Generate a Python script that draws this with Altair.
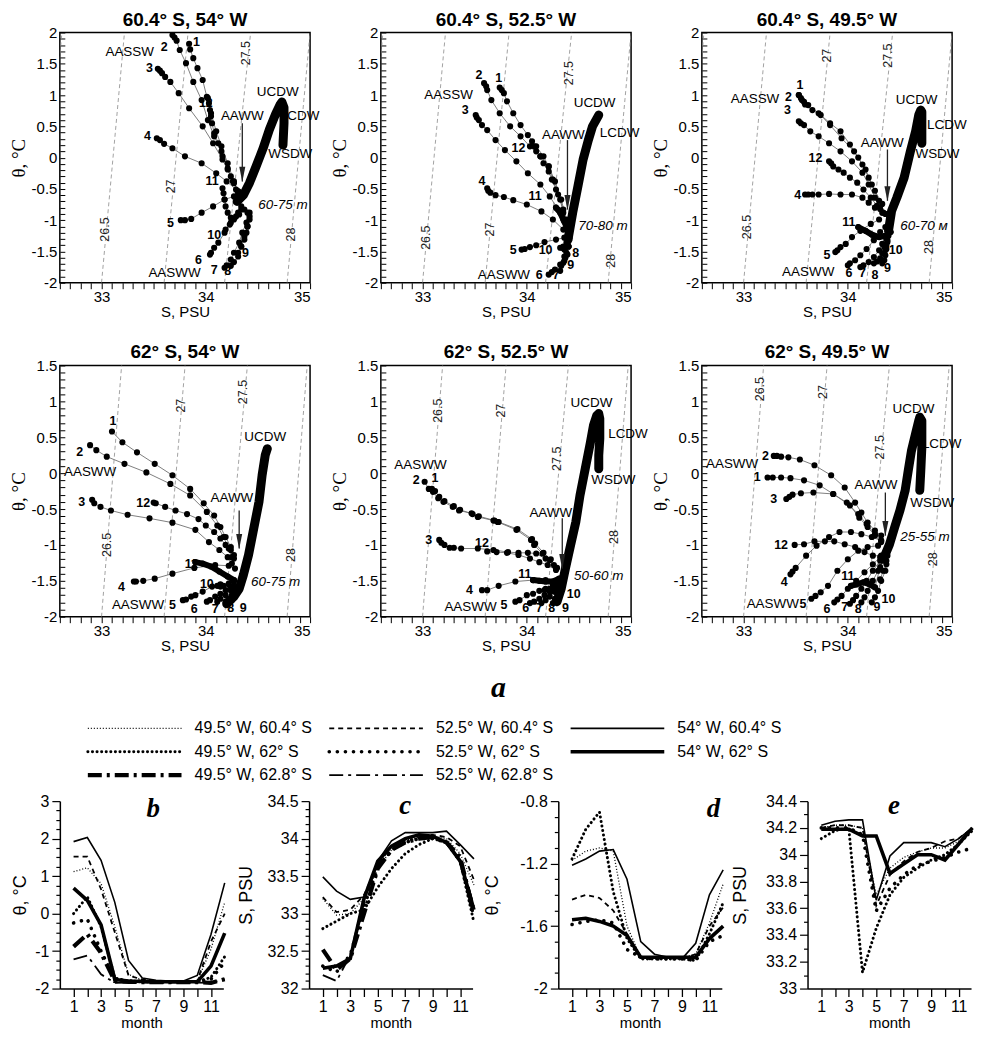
import altair as alt
import pandas as pd

FONT = "Liberation Sans"
SERIF = "Liberation Serif"

S_LO, S_HI = 32.6, 35.0

# ---------------- isopycnals (sigma-theta) ----------------
ISO_SIGMA = [26.0, 26.5, 27.0, 27.5, 28.0]
ISO_S_COLD = [32.40, 33.00, 33.60, 34.18, 34.78]   # S where the isopycnal meets theta = -2
ISO_S_WARM = [32.62, 33.22, 33.83, 34.43, 35.00]   # S where the isopycnal meets theta = 2

# ---------------- panel 1: 60.4 S, 54 W ----------------
P1_MONTHS = {
    1: [(33.84, 1.82), (33.85, 1.73), (33.88, 1.59), (33.92, 1.43), (33.97, 1.24), (34.01, 0.97), (34.05, 0.71), (34.10, 0.42), (34.15, 0.18), (34.21, -0.09), (34.27, -0.38), (34.32, -0.59)],
    2: [(33.68, 1.96), (33.70, 1.92), (33.72, 1.87), (33.75, 1.72), (33.81, 1.51), (33.88, 1.21), (33.96, 0.92), (34.02, 0.60), (34.08, 0.34), (34.15, 0.10), (34.21, -0.17), (34.27, -0.41), (34.31, -0.57)],
    3: [(33.54, 1.42), (33.56, 1.39), (33.58, 1.35), (33.61, 1.29), (33.66, 1.21), (33.74, 1.03), (33.84, 0.79), (33.97, 0.50), (34.07, 0.23), (34.16, -0.03), (34.24, -0.30), (34.31, -0.54)],
    4: [(33.53, 0.31), (33.56, 0.28), (33.60, 0.22), (33.68, 0.15), (33.80, 0.02), (33.96, -0.09), (34.10, -0.25), (34.20, -0.38), (34.29, -0.51)],
    5: [(33.76, -1.00), (33.80, -1.00), (33.86, -0.98), (33.96, -0.88), (34.07, -0.78), (34.18, -0.67), (34.27, -0.62)],
    6: [(34.04, -1.55), (34.05, -1.52), (34.08, -1.44), (34.12, -1.36), (34.18, -1.20), (34.24, -1.04), (34.31, -0.88), (34.34, -0.78)],
    7: [(34.18, -1.76), (34.20, -1.72), (34.24, -1.63), (34.27, -1.52), (34.32, -1.36), (34.35, -1.20), (34.39, -1.04), (34.40, -0.88)],
    8: [(34.24, -1.73), (34.27, -1.67), (34.31, -1.58), (34.34, -1.42), (34.37, -1.26), (34.40, -1.10), (34.42, -0.94)],
    9: [(34.31, -1.52), (34.34, -1.42), (34.37, -1.31), (34.39, -1.20), (34.40, -1.10), (34.42, -0.99), (34.42, -0.88)],
    10: [(34.19, -1.15), (34.23, -1.07), (34.27, -0.99), (34.32, -0.91), (34.37, -0.83)],
    11: [(34.16, -0.49), (34.17, -0.57), (34.18, -0.67), (34.19, -0.78), (34.21, -0.88), (34.24, -0.96), (34.29, -0.94), (34.34, -0.83)],
    12: [(34.02, 0.95), (34.03, 0.87), (34.04, 0.76), (34.05, 0.66), (34.06, 0.55), (34.08, 0.39), (34.12, 0.23), (34.16, 0.02), (34.21, -0.19), (34.26, -0.38), (34.31, -0.54)],
}
P1_THICK = []
P1_DEEP = [(34.30, -0.70), (34.36, -0.60), (34.42, -0.40), (34.48, -0.15), (34.55, 0.15), (34.61, 0.45), (34.67, 0.70), (34.71, 0.84), (34.73, 0.89), (34.75, 0.80), (34.75, 0.55), (34.74, 0.20)]
P1_MLAB = [("1", 33.91, 1.85), ("2", 33.60, 1.77), ("3", 33.46, 1.43), ("4", 33.44, 0.34), ("5", 33.66, -1.04), ("6", 33.93, -1.63), ("7", 34.08, -1.79), ("8", 34.21, -1.81), ("9", 34.38, -1.52), ("10", 34.08, -1.23), ("11", 34.06, -0.38), ("12", 34.00, 0.87)]
P1_WM = [("AASSW", 33.27, 1.69), ("UCDW", 34.69, 1.05), ("LCDW", 34.90, 0.66), ("WSDW", 34.81, 0.05), ("AAWW", 34.35, 0.66), ("AASWW", 33.70, -1.84)]
P1_DEPTH = ("60-75 m", 34.74, -0.75)
P1_ARROW = (34.35, 0.55, -0.38)
P1_ISOLAB = [("26.5", 33.03, -1.15), ("27", 33.67, -0.46), ("27.5", 34.39, 1.67), ("28", 34.82, -1.23)]

# ---------------- panel 2: 60.4 S, 52.5 W ----------------
P2_MONTHS = {
    1: [(33.74, 1.12), (33.76, 1.08), (33.78, 1.03), (33.81, 0.90), (33.87, 0.71), (33.94, 0.52), (34.01, 0.36), (34.09, 0.18), (34.16, 0.02), (34.21, -0.14), (34.25, -0.35), (34.30, -0.59), (34.35, -0.83), (34.38, -1.04)],
    2: [(33.59, 1.19), (33.61, 1.14), (33.62, 1.08), (33.66, 0.92), (33.74, 0.71), (33.84, 0.50), (33.94, 0.34), (34.03, 0.18), (34.13, 0.02), (34.21, -0.14), (34.27, -0.38), (34.33, -0.67), (34.38, -0.99)],
    3: [(33.51, 0.68), (33.52, 0.64), (33.54, 0.60), (33.57, 0.52), (33.62, 0.44), (33.70, 0.28), (33.79, 0.12), (33.90, -0.06), (34.01, -0.25), (34.13, -0.43), (34.22, -0.62), (34.30, -0.83), (34.36, -1.02)],
    4: [(33.62, -0.49), (33.63, -0.53), (33.65, -0.56), (33.70, -0.60), (33.78, -0.63), (33.87, -0.68), (34.00, -0.75), (34.14, -0.86), (34.25, -0.99), (34.35, -1.15)],
    5: [(33.95, -1.47), (33.98, -1.46), (34.03, -1.43), (34.09, -1.40), (34.17, -1.35), (34.28, -1.31), (34.36, -1.28)],
    6: [(34.21, -1.87), (34.24, -1.83), (34.27, -1.79), (34.32, -1.71), (34.36, -1.58), (34.40, -1.42)],
    7: [(34.32, -1.81), (34.33, -1.73), (34.36, -1.65), (34.39, -1.55), (34.40, -1.42), (34.41, -1.28)],
    8: [(34.36, -1.47), (34.38, -1.42), (34.40, -1.34), (34.41, -1.23)],
    9: [(34.35, -1.68), (34.37, -1.60), (34.38, -1.52), (34.40, -1.42), (34.41, -1.31)],
    10: [(34.32, -1.44), (34.34, -1.44), (34.35, -1.42), (34.38, -1.36), (34.40, -1.31)],
    11: [(34.28, -0.80), (34.32, -0.88), (34.35, -0.99), (34.38, -1.10), (34.41, -1.18)],
    12: [(34.05, 0.26), (34.07, 0.18), (34.09, 0.10), (34.13, 0.02), (34.16, -0.09), (34.21, -0.22), (34.24, -0.35), (34.28, -0.51), (34.32, -0.67), (34.35, -0.88), (34.38, -1.04)],
}
P2_THICK = [[(34.28, -0.80), (34.32, -0.88), (34.35, -0.99), (34.38, -1.10), (34.41, -1.18)]]
P2_DEEP = [(34.40, -1.26), (34.44, -0.88), (34.49, -0.46), (34.54, -0.03), (34.59, 0.28), (34.63, 0.50), (34.67, 0.62), (34.69, 0.68)]
P2_MLAB = [("1", 33.73, 1.27), ("2", 33.54, 1.32), ("3", 33.41, 0.76), ("4", 33.57, -0.38), ("5", 33.87, -1.47), ("6", 34.12, -1.87), ("7", 34.28, -1.87), ("8", 34.47, -1.52), ("9", 34.42, -1.71), ("10", 34.18, -1.47), ("11", 34.08, -0.62), ("12", 33.92, 0.15)]
P2_WM = [("AASSW", 33.25, 1.00), ("UCDW", 34.65, 0.87), ("LCDW", 34.89, 0.39), ("AAWW", 34.35, 0.36), ("AASWW", 33.78, -1.87)]
P2_DEPTH = ("70-80 m", 34.73, -1.10)
P2_ARROW = (34.39, 0.28, -0.83)
P2_ISOLAB = [("26.5", 33.03, -1.28), ("27", 33.65, -1.15), ("27.5", 34.40, 1.35), ("28", 34.81, -1.65)]

# ---------------- panel 3: 60.4 S, 49.5 W ----------------
P3_MONTHS = {
    1: [(33.53, 1.00), (33.55, 0.95), (33.58, 0.89), (33.62, 0.84), (33.72, 0.71), (33.83, 0.55), (33.93, 0.42), (34.02, 0.21), (34.10, 0.00), (34.17, -0.19), (34.23, -0.43), (34.30, -0.69), (34.36, -0.90)],
    2: [(33.53, 1.00), (33.56, 0.92), (33.59, 0.85), (33.66, 0.76), (33.74, 0.68), (33.83, 0.52), (33.94, 0.31), (34.06, 0.10), (34.14, -0.11), (34.20, -0.32), (34.26, -0.53), (34.33, -0.74)],
    3: [(33.53, 0.58), (33.55, 0.55), (33.58, 0.52), (33.64, 0.42), (33.72, 0.34), (33.82, 0.23), (33.93, 0.10), (34.04, -0.06), (34.14, -0.24), (34.20, -0.43), (34.26, -0.64), (34.31, -0.82)],
    4: [(33.59, -0.59), (33.62, -0.59), (33.66, -0.59), (33.72, -0.59), (33.82, -0.58), (33.93, -0.59), (34.04, -0.59), (34.14, -0.64), (34.20, -0.72), (34.26, -0.80), (34.33, -0.88)],
    5: [(33.88, -1.51), (33.90, -1.48), (33.93, -1.43), (33.98, -1.38), (34.04, -1.27), (34.12, -1.17), (34.22, -1.06), (34.30, -0.99)],
    6: [(34.00, -1.72), (34.02, -1.69), (34.07, -1.64), (34.12, -1.56), (34.18, -1.46), (34.25, -1.32), (34.31, -1.19), (34.36, -1.11)],
    7: [(34.12, -1.75), (34.15, -1.72), (34.20, -1.67), (34.25, -1.59), (34.30, -1.48), (34.33, -1.38), (34.36, -1.25)],
    8: [(34.25, -1.69), (34.28, -1.66), (34.31, -1.61), (34.33, -1.53), (34.35, -1.43), (34.37, -1.30)],
    9: [(34.33, -1.69), (34.35, -1.64), (34.36, -1.56), (34.37, -1.46), (34.38, -1.35)],
    10: [(34.36, -1.48), (34.37, -1.40), (34.38, -1.32), (34.39, -1.25)],
    11: [(34.10, -1.11), (34.17, -1.17), (34.23, -1.23), (34.30, -1.27), (34.36, -1.25), (34.41, -1.19)],
    12: [(33.82, -0.06), (33.84, -0.09), (33.86, -0.14), (33.91, -0.19), (33.96, -0.24), (34.02, -0.32), (34.09, -0.40), (34.15, -0.51), (34.22, -0.64), (34.28, -0.77), (34.34, -0.88)],
}
P3_THICK = [[(34.10, -1.11), (34.17, -1.17), (34.23, -1.23), (34.30, -1.27), (34.36, -1.25), (34.41, -1.19)]]
P3_DEEP = [(34.39, -1.17), (34.42, -0.85), (34.47, -0.64), (34.54, -0.32), (34.60, 0.10), (34.65, 0.42), (34.68, 0.68), (34.70, 0.76), (34.71, 0.73), (34.71, 0.52), (34.71, 0.23)]
P3_MLAB = [("1", 33.54, 1.16), ("2", 33.43, 0.97), ("3", 33.42, 0.76), ("4", 33.52, -0.59), ("5", 33.80, -1.56), ("6", 34.01, -1.85), ("7", 34.14, -1.85), ("8", 34.26, -1.88), ("9", 34.38, -1.77), ("10", 34.46, -1.48), ("11", 34.01, -1.03), ("12", 33.69, -0.01)]
P3_WM = [("AASSW", 33.11, 0.94), ("UCDW", 34.66, 0.92), ("LCDW", 34.95, 0.52), ("WSDW", 34.86, 0.05), ("AAWW", 34.33, 0.23), ("AASWW", 33.62, -1.83)]
P3_DEPTH = ("60-70 м", 34.73, -1.09)
P3_ARROW = (34.38, 0.13, -0.69)
P3_ISOLAB = [("26.5", 33.03, -1.11), ("27", 33.80, 1.63), ("27.5", 34.39, 1.63), ("28", 34.78, -1.43)]

# ---------------- panel 4: 62 S, 54 W ----------------
P4_MONTHS = {
    1: [(33.10, 0.58), (33.20, 0.43), (33.34, 0.29), (33.51, 0.13), (33.68, -0.03), (33.85, -0.22), (33.98, -0.42), (34.08, -0.59), (34.14, -0.75), (34.19, -0.89), (34.24, -1.03), (34.27, -1.14)],
    2: [(32.89, 0.39), (32.95, 0.32), (33.05, 0.23), (33.22, 0.13), (33.43, 0.01), (33.66, -0.15), (33.85, -0.31), (34.01, -0.54), (34.11, -0.73), (34.17, -0.89), (34.22, -1.05), (34.25, -1.17)],
    3: [(32.91, -0.37), (32.93, -0.42), (32.99, -0.47), (33.09, -0.52), (33.25, -0.58), (33.46, -0.63), (33.68, -0.69), (33.90, -0.79), (34.03, -0.96), (34.13, -1.07), (34.21, -1.17), (34.25, -1.26)],
    4: [(33.31, -1.51), (33.33, -1.51), (33.40, -1.50), (33.51, -1.47), (33.68, -1.40), (33.89, -1.32), (34.09, -1.28), (34.22, -1.29), (34.28, -1.33)],
    5: [(33.78, -1.77), (33.81, -1.76), (33.86, -1.72), (33.90, -1.70), (33.97, -1.65), (34.06, -1.58), (34.14, -1.55), (34.22, -1.54)],
    6: [(34.01, -1.79), (34.04, -1.77), (34.09, -1.72), (34.14, -1.68), (34.19, -1.63), (34.24, -1.58)],
    7: [(34.11, -1.79), (34.14, -1.75), (34.19, -1.70), (34.24, -1.63), (34.27, -1.58)],
    8: [(34.19, -1.79), (34.22, -1.75), (34.25, -1.70), (34.28, -1.63)],
    9: [(34.22, -1.82), (34.25, -1.77), (34.28, -1.70)],
    10: [(34.11, -1.57), (34.14, -1.58), (34.17, -1.57), (34.22, -1.55), (34.27, -1.51)],
    11: [(33.90, -1.24), (33.97, -1.26), (34.05, -1.30), (34.13, -1.37), (34.21, -1.44), (34.27, -1.49)],
    12: [(33.50, -0.41), (33.52, -0.42), (33.61, -0.47), (33.71, -0.52), (33.82, -0.57), (33.93, -0.64), (34.00, -0.73), (34.08, -0.82), (34.14, -0.91), (34.19, -1.00), (34.24, -1.07), (34.27, -1.19)],
}
P4_THICK = [[(33.90, -1.24), (33.97, -1.26), (34.05, -1.30), (34.13, -1.37), (34.21, -1.44), (34.27, -1.49)]]
P4_DEEP = [(34.20, -1.82), (34.27, -1.72), (34.32, -1.61), (34.36, -1.42), (34.41, -1.14), (34.46, -0.77), (34.51, -0.40), (34.54, -0.03), (34.57, 0.25), (34.59, 0.34)]
P4_MLAB = [("1", 33.11, 0.72), ("2", 32.79, 0.29), ("3", 32.81, -0.40), ("4", 33.19, -1.58), ("5", 33.68, -1.84), ("6", 33.89, -1.89), ("7", 34.09, -1.89), ("8", 34.24, -1.88), ("9", 34.36, -1.88), ("10", 34.01, -1.54), ("11", 33.86, -1.26), ("12", 33.40, -0.42)]
P4_WM = [("AASWW", 32.89, 0.02), ("UCDW", 34.57, 0.50), ("AAWW", 34.25, -0.35), ("AASWW", 33.35, -1.84)]
P4_DEPTH = ("60-75 m", 34.67, -1.51)
P4_ARROW = (34.32, -0.52, -1.05)
P4_ISOLAB = [("26.5", 33.05, -1.00), ("27", 33.76, 0.94), ("27.5", 34.36, 1.13), ("28", 34.82, -1.14)]

# ---------------- panel 5: 62 S, 52.5 W ----------------
P5_MONTHS = {
    1: [(33.09, -0.22), (33.12, -0.25), (33.16, -0.33), (33.21, -0.39), (33.30, -0.46), (33.36, -0.51), (33.48, -0.57), (33.54, -0.60), (33.69, -0.66), (33.73, -0.68), (33.91, -0.78), (34.05, -0.92), (34.08, -0.98), (34.16, -1.11), (34.23, -1.20), (34.29, -1.32)],
    2: [(33.02, -0.12), (33.06, -0.22), (33.10, -0.26), (33.15, -0.35), (33.20, -0.40), (33.29, -0.47), (33.35, -0.52), (33.47, -0.56), (33.53, -0.61), (33.68, -0.66), (33.72, -0.68), (33.90, -0.79), (34.04, -0.93), (34.07, -1.00), (34.15, -1.12), (34.22, -1.21), (34.28, -1.33)],
    3: [(33.16, -0.93), (33.18, -0.97), (33.21, -1.00), (33.26, -1.04), (33.30, -1.04), (33.37, -1.05), (33.53, -1.05), (33.68, -1.07), (33.82, -1.10), (33.92, -1.11), (34.01, -1.11), (34.09, -1.12), (34.18, -1.19), (34.26, -1.28)],
    4: [(33.57, -1.63), (33.62, -1.63), (33.73, -1.57), (33.89, -1.51), (34.06, -1.49), (34.18, -1.49), (34.28, -1.51)],
    5: [(33.89, -1.79), (33.93, -1.77), (34.00, -1.70), (34.06, -1.68), (34.12, -1.64), (34.18, -1.61), (34.25, -1.56)],
    6: [(34.03, -1.81), (34.07, -1.79), (34.12, -1.75), (34.17, -1.70), (34.22, -1.65), (34.28, -1.58)],
    7: [(34.14, -1.81), (34.18, -1.77), (34.22, -1.72), (34.26, -1.65), (34.29, -1.58)],
    8: [(34.25, -1.81), (34.27, -1.75), (34.29, -1.68), (34.31, -1.61)],
    9: [(34.29, -1.79), (34.31, -1.72), (34.32, -1.65)],
    10: [(34.17, -1.63), (34.22, -1.61), (34.26, -1.58), (34.31, -1.54)],
    11: [(34.06, -1.49), (34.12, -1.50), (34.18, -1.51), (34.25, -1.51), (34.31, -1.47)],
    12: [(33.62, -1.09), (33.71, -1.10), (33.81, -1.11), (33.92, -1.14), (34.03, -1.19), (34.12, -1.24), (34.20, -1.28), (34.28, -1.35)],
}
P5_THICK = [[(34.06, -1.49), (34.12, -1.50), (34.18, -1.51), (34.25, -1.51), (34.31, -1.47)]]
P5_DEEP = [(34.29, -1.79), (34.33, -1.61), (34.37, -1.33), (34.42, -1.00), (34.47, -0.68), (34.51, -0.31), (34.56, 0.06), (34.61, 0.43), (34.64, 0.67), (34.67, 0.80), (34.69, 0.83), (34.70, 0.76), (34.70, 0.48), (34.69, 0.25), (34.69, 0.06)]
P5_MLAB = [("1", 33.12, -0.07), ("2", 32.94, -0.10), ("3", 33.06, -0.93), ("4", 33.45, -1.63), ("5", 33.78, -1.84), ("6", 33.99, -1.88), ("7", 34.12, -1.88), ("8", 34.24, -1.88), ("9", 34.37, -1.88), ("10", 34.45, -1.68), ("11", 33.98, -1.40), ("12", 33.57, -0.98)]
P5_WM = [("AASWW", 32.98, 0.11), ("UCDW", 34.62, 0.98), ("LCDW", 34.97, 0.55), ("WSDW", 34.83, -0.10), ("AAWW", 34.23, -0.56), ("AASWW", 33.46, -1.86)]
P5_DEPTH = ("50-60 m", 34.69, -1.44)
P5_ARROW = (34.34, -0.63, -1.33)
P5_ISOLAB = [("26.5", 33.15, 0.87), ("27", 33.75, 0.87), ("27.5", 34.29, 0.20), ("28", 34.84, -0.89)]

# ---------------- panel 6: 62 S, 49.5 W ----------------
P6_MONTHS = {
    1: [(33.23, -0.06), (33.28, -0.06), (33.36, -0.06), (33.45, -0.07), (33.58, -0.10), (33.73, -0.17), (33.86, -0.29), (33.99, -0.41), (34.10, -0.57), (34.18, -0.71), (34.26, -0.85), (34.32, -0.94)],
    2: [(33.29, 0.24), (33.32, 0.24), (33.36, 0.23), (33.43, 0.22), (33.54, 0.19), (33.68, 0.11), (33.84, -0.03), (33.97, -0.20), (34.07, -0.41), (34.13, -0.55), (34.19, -0.69), (34.26, -0.80), (34.32, -0.87)],
    3: [(33.41, -0.36), (33.44, -0.33), (33.47, -0.30), (33.55, -0.28), (33.67, -0.27), (33.86, -0.29), (34.02, -0.45), (34.11, -0.62), (34.19, -0.75), (34.26, -0.87), (34.32, -0.96)],
    4: [(33.45, -1.41), (33.47, -1.37), (33.50, -1.32), (33.60, -1.15), (33.70, -1.01), (33.82, -0.89), (33.92, -0.82), (34.03, -0.82), (34.13, -0.85), (34.23, -0.89), (34.32, -0.94)],
    5: [(33.65, -1.75), (33.69, -1.71), (33.74, -1.66), (33.81, -1.57), (33.90, -1.36), (34.00, -1.20), (34.10, -1.08), (34.19, -1.03), (34.29, -1.01)],
    6: [(33.87, -1.80), (33.90, -1.76), (33.94, -1.71), (34.00, -1.61), (34.08, -1.50), (34.16, -1.38), (34.24, -1.27), (34.31, -1.17)],
    7: [(34.02, -1.82), (34.05, -1.77), (34.08, -1.71), (34.13, -1.61), (34.18, -1.50), (34.24, -1.36), (34.31, -1.22)],
    8: [(34.13, -1.80), (34.16, -1.73), (34.19, -1.64), (34.24, -1.50), (34.29, -1.36), (34.34, -1.22)],
    9: [(34.23, -1.80), (34.26, -1.73), (34.29, -1.64), (34.32, -1.50), (34.36, -1.36), (34.37, -1.22)],
    10: [(34.31, -1.48), (34.34, -1.36), (34.37, -1.27), (34.38, -1.15)],
    11: [(34.03, -1.57), (34.08, -1.55), (34.15, -1.52), (34.21, -1.55), (34.26, -1.59), (34.31, -1.31), (34.36, -1.13)],
    12: [(33.49, -1.00), (33.58, -0.99), (33.68, -0.95), (33.78, -0.95), (33.87, -0.95), (33.97, -0.99), (34.07, -1.03), (34.16, -1.10), (34.24, -1.15), (34.32, -1.15)],
}
P6_THICK = [[(34.03, -1.57), (34.08, -1.55), (34.15, -1.52), (34.21, -1.55), (34.26, -1.59)]]
P6_DEEP = [(34.36, -1.13), (34.40, -0.99), (34.45, -0.75), (34.50, -0.52), (34.55, -0.24), (34.58, 0.04), (34.61, 0.31), (34.65, 0.55), (34.68, 0.73), (34.69, 0.78), (34.71, 0.73), (34.71, 0.36), (34.70, 0.04), (34.69, -0.24)]
P6_MLAB = [("1", 33.13, -0.06), ("2", 33.21, 0.24), ("3", 33.29, -0.36), ("4", 33.39, -1.52), ("5", 33.57, -1.82), ("6", 33.80, -1.89), ("7", 33.97, -1.87), ("8", 34.10, -1.89), ("9", 34.28, -1.87), ("10", 34.39, -1.75), ("11", 34.00, -1.43), ("12", 33.36, -1.00)]
P6_WM = [("AASWW", 32.89, 0.13), ("UCDW", 34.63, 0.90), ("LCDW", 34.90, 0.41), ("WSDW", 34.81, -0.41), ("AAWW", 34.27, -0.17), ("AASWW", 33.28, -1.82)]
P6_DEPTH = ("25-55 m", 34.74, -0.89)
P6_ARROW = (34.36, -0.27, -0.87)
P6_ISOLAB = [("26.5", 33.16, 1.17), ("27", 33.76, 1.13), ("27.5", 34.31, 0.36), ("28", 34.82, -1.20)]

# ---------------- seasonal panels b-e ----------------
MONTHS = list(range(1, 13))
SERIES = ["49.5° W, 60.4° S", "52.5° W, 60.4° S", "54° W, 60.4° S",
          "49.5° W, 62° S", "52.5° W, 62° S", "54° W, 62° S",
          "49.5° W, 62.8° S", "52.5° W, 62.8° S"]

B_VALUES = {
    "49.5° W, 60.4° S": [1.12, 1.22, 0.80, -0.35, -1.62, -1.78, -1.80, -1.81, -1.81, -1.80, -0.95, 0.30],
    "52.5° W, 60.4° S": [1.52, 1.52, 0.65, -0.50, -1.65, -1.76, -1.80, -1.81, -1.81, -1.80, -0.75, 0.00],
    "54° W, 60.4° S": [1.92, 2.03, 1.42, 0.30, -1.25, -1.72, -1.78, -1.80, -1.80, -1.65, -0.56, 0.82],
    "49.5° W, 62° S": [0.00, 0.45, -0.35, -1.72, -1.80, -1.81, -1.82, -1.82, -1.82, -1.82, -1.70, -1.15],
    "52.5° W, 62° S": [-0.25, -0.15, -1.00, -1.76, -1.80, -1.81, -1.82, -1.82, -1.82, -1.82, -1.75, -1.30],
    "54° W, 62° S": [0.68, 0.35, -0.30, -1.76, -1.80, -1.81, -1.82, -1.82, -1.82, -1.82, -1.40, -0.52],
    "49.5° W, 62.8° S": [-0.88, -0.55, -1.05, -1.80, -1.82, -1.83, -1.83, -1.83, -1.83, -1.83, -1.85, -1.75],
    "52.5° W, 62.8° S": [-1.22, -1.12, -1.62, -1.85, -1.84, -1.84, -1.84, -1.84, -1.84, -1.84, -1.85, -1.75],
}
C_VALUES = {
    "49.5° W, 60.4° S": [33.20, 32.98, 33.00, 33.20, 33.60, 33.85, 33.98, 34.02, 34.03, 34.00, 33.80, 33.38],
    "52.5° W, 60.4° S": [33.22, 33.02, 33.05, 33.25, 33.65, 33.90, 34.00, 34.05, 34.05, 34.02, 33.90, 33.45],
    "54° W, 60.4° S": [33.49, 33.30, 33.19, 33.22, 33.70, 33.97, 34.08, 34.08, 34.08, 34.10, 33.92, 33.73],
    "49.5° W, 62° S": [32.80, 32.90, 33.00, 33.05, 33.35, 33.60, 33.80, 33.92, 34.00, 33.95, 33.70, 32.88],
    "52.5° W, 62° S": [32.30, 32.22, 32.45, 33.10, 33.60, 33.85, 33.95, 34.00, 34.00, 33.95, 33.70, 32.95],
    "54° W, 62° S": [32.27, 32.30, 32.40, 33.20, 33.70, 33.90, 34.00, 34.05, 34.03, 33.95, 33.70, 33.05],
    "49.5° W, 62.8° S": [32.52, 32.25, 32.40, 33.00, 33.60, 33.85, 33.95, 34.00, 34.02, 33.95, 33.75, 33.00],
    "52.5° W, 62.8° S": [32.18, 32.10, 32.45, 33.20, 33.65, 33.85, 33.95, 34.02, 34.02, 33.95, 33.75, 33.10],
}
D_VALUES = {
    "49.5° W, 60.4° S": [-1.18, -1.12, -1.10, -1.12, -1.60, -1.80, -1.80, -1.80, -1.80, -1.78, -1.58, -1.33],
    "52.5° W, 60.4° S": [-1.43, -1.40, -1.42, -1.50, -1.65, -1.80, -1.80, -1.80, -1.81, -1.78, -1.60, -1.48],
    "54° W, 60.4° S": [-1.21, -1.17, -1.12, -1.11, -1.30, -1.70, -1.78, -1.80, -1.81, -1.71, -1.40, -1.24],
    "49.5° W, 62° S": [-1.17, -0.98, -0.87, -1.38, -1.68, -1.81, -1.81, -1.81, -1.81, -1.82, -1.65, -1.45],
    "52.5° W, 62° S": [-1.59, -1.57, -1.56, -1.58, -1.75, -1.80, -1.81, -1.81, -1.81, -1.82, -1.70, -1.66],
    "54° W, 62° S": [-1.56, -1.55, -1.57, -1.60, -1.66, -1.80, -1.80, -1.80, -1.80, -1.80, -1.68, -1.60],
}
E_VALUES = {
    "49.5° W, 60.4° S": [34.20, 34.22, 34.22, 34.20, 33.70, 33.90, 33.98, 34.02, 34.05, 34.05, 34.10, 34.18],
    "52.5° W, 60.4° S": [34.20, 34.22, 34.22, 34.20, 33.62, 33.85, 33.95, 34.02, 34.05, 34.10, 34.12, 34.20],
    "54° W, 60.4° S": [34.22, 34.25, 34.26, 34.26, 33.66, 33.99, 34.09, 34.09, 34.09, 34.06, 34.12, 34.20],
    "49.5° W, 62° S": [34.12, 34.18, 34.20, 33.12, 33.45, 33.70, 33.83, 33.90, 33.96, 34.00, 34.08, 34.18],
    "52.5° W, 62° S": [34.20, 34.20, 34.20, 34.15, 33.58, 33.75, 33.85, 33.92, 33.95, 33.98, 34.02, 34.05],
    "54° W, 62° S": [34.19, 34.19, 34.19, 34.14, 34.14, 33.86, 33.93, 34.00, 34.00, 33.96, 34.08, 34.20],
}

# line styles of the eight series (styles kept apart from the data)
STROKE_W = [1.3, 1.8, 1.6, 3.0, 3.6, 3.6, 4.2, 1.8]
STROKE_DASH = [[1, 2], [5, 4], None, [0.1, 4.5], [0.1, 8], None, [14, 5, 3, 5], [14, 5, 3, 5]]
STROKE_CAP = ["butt", "butt", "butt", "round", "round", "butt", "butt", "butt"]
LEGEND_COL = [0, 1, 2, 0, 1, 2, 0, 1]
LEGEND_ROW = [0, 0, 0, 1, 1, 1, 2, 2]


def axis_vals(a, b, step):
    n = int(round((b - a) / step))
    return [round(a + i * step, 3) for i in range(n + 1)]


def ts_panel(title, months, thick, deep, mlab, wm, depth, arrow, isolab, ymax, height):
    xs = alt.Scale(domain=[S_LO, S_HI], nice=False, zero=False)
    ys = alt.Scale(domain=[-2, ymax], nice=False, zero=False)
    xax = alt.Axis(values=axis_vals(S_LO, S_HI, 0.1),
                   labelExpr="abs(datum.value - round(datum.value)) < 0.001 ? '' + round(datum.value) : ''",
                   labelOverlap=False, tickSize=6, tickWidth=1, labelPadding=1, labelFontSize=15,
                   domain=False, grid=False, title="S, PSU", titleFontSize=15,
                   titleFontWeight="normal", titlePadding=0)
    yax = alt.Axis(values=axis_vals(-2, ymax, 0.1),
                   labelExpr="abs(datum.value * 2 - round(datum.value * 2)) < 0.001 ? '' + datum.value : ''",
                   labelOverlap=False, tickSize=5, tickWidth=1, offset=-5, labelPadding=3,
                   labelFontSize=15, domain=False, grid=False, title="θ, °C",
                   titleFont=SERIF, titleFontSize=19, titleFontWeight="normal", titlePadding=3)
    X = alt.X("S:Q", scale=xs, axis=xax)
    Y = alt.Y("T:Q", scale=ys, axis=yax)

    iso_rows = []
    for sg, sc, sw in zip(ISO_SIGMA, ISO_S_COLD, ISO_S_WARM):
        iso_rows.append({"sigma": sg, "S": sc, "T": -2.0})
        iso_rows.append({"sigma": sg, "S": sw, "T": 2.0})
    iso_df = pd.DataFrame(iso_rows)
    isolab_df = pd.DataFrame(isolab, columns=["txt", "S", "T"])

    line_rows = []
    for m, pts in months.items():
        for i, (s, t) in enumerate(pts):
            line_rows.append({"month": m, "idx": i, "S": s, "T": t})
    line_df = pd.DataFrame(line_rows)

    thick_rows = []
    for k, seg in enumerate(thick):
        for i, (s, t) in enumerate(seg):
            thick_rows.append({"seg": k, "idx": i, "S": s, "T": t})
    deep_df = pd.DataFrame([{"idx": i, "S": s, "T": t} for i, (s, t) in enumerate(deep)])
    mlab_df = pd.DataFrame(mlab, columns=["txt", "S", "T"])
    wm_df = pd.DataFrame(wm, columns=["txt", "S", "T"])
    depth_df = pd.DataFrame([depth], columns=["txt", "S", "T"])
    arrow_df = pd.DataFrame([arrow], columns=["S", "T", "T2"])

    layers = [
        alt.Chart(iso_df).mark_line(color="#8a8a8a", strokeDash=[4, 3], strokeWidth=0.8, clip=True)
        .encode(x=X, y=Y, detail="sigma:N", order="T:Q"),
        alt.Chart(isolab_df).mark_text(angle=270, fontSize=12.5, color="#222")
        .encode(x=X, y=Y, text="txt:N"),
        alt.Chart(line_df).mark_line(color="#707070", strokeWidth=0.9)
        .encode(x=X, y=Y, detail="month:N", order="idx:Q"),
    ]
    if thick_rows:
        layers.append(alt.Chart(pd.DataFrame(thick_rows))
                      .mark_line(color="black", strokeWidth=6, strokeCap="round", strokeJoin="round")
                      .encode(x=X, y=Y, detail="seg:N", order="idx:Q"))
    layers += [
        alt.Chart(deep_df).mark_line(color="black", strokeWidth=9, strokeCap="round", strokeJoin="round")
        .encode(x=X, y=Y, order="idx:Q"),
        alt.Chart(line_df).mark_circle(size=38, color="black", opacity=1)
        .encode(x=X, y=Y),
        alt.Chart(arrow_df).mark_rule(color="#222", strokeWidth=1.3)
        .encode(x=X, y=Y, y2="T2:Q"),
        alt.Chart(arrow_df).mark_point(shape="M -0.4 -1 L 0.4 -1 L 0 1 Z", filled=True, size=230,
                                       color="#222", opacity=1, yOffset=-7)
        .encode(x=X, y=alt.Y("T2:Q", scale=ys, axis=yax)),
        alt.Chart(mlab_df).mark_text(fontWeight="bold", fontSize=12.5, color="black")
        .encode(x=X, y=Y, text="txt:N"),
        alt.Chart(wm_df).mark_text(fontSize=13.5, color="black")
        .encode(x=X, y=Y, text="txt:N"),
        alt.Chart(depth_df).mark_text(fontSize=13.5, fontStyle="italic", color="black")
        .encode(x=X, y=Y, text="txt:N"),
    ]
    return alt.layer(*layers).properties(
        width=251, height=height,
        title=alt.TitleParams(title, font=FONT, fontSize=19, fontWeight="bold", offset=-4, color="black"),
        view=alt.ViewBackground(stroke="black", strokeWidth=1.5),
    )


def cond_tick(test, major, minor):
    return {"condition": {"test": test, "value": major}, "value": minor}


def month_panel(values, ydom, ystep, test, ytitle, tpad, letter, lx, ly):
    xs = alt.Scale(domain=[0, 11.9], nice=False, zero=False)
    ys = alt.Scale(domain=ydom, nice=False, zero=False)
    xax = alt.Axis(values=MONTHS, labelExpr="datum.value % 2 == 1 ? '' + datum.value : ''",
                   labelOverlap=False, tickSize=8, tickWidth=1.3, labelFontSize=16, labelPadding=2,
                   domainWidth=1.5, grid=False, title="month", titleFontSize=15,
                   titleFontWeight="normal", titlePadding=1)
    yax = alt.Axis(values=axis_vals(ydom[0], ydom[1], ystep),
                   labelExpr=test + " ? '' + datum.value : ''",
                   labelOverlap=False, tickSize=cond_tick(test, 8, 4), tickWidth=1.2,
                   labelFontSize=16, labelPadding=3, domainWidth=1.5, grid=False,
                   title=ytitle, titleFontSize=18, titleFontWeight="normal", titlePadding=tpad)
    X = alt.X("month:Q", scale=xs, axis=xax)
    Y = alt.Y("v:Q", scale=ys, axis=yax)
    layers = []
    for i, name in enumerate(SERIES):
        if name not in values:
            continue
        df = pd.DataFrame({"month": MONTHS, "v": values[name]})
        kw = dict(color="black", strokeWidth=STROKE_W[i], strokeCap=STROKE_CAP[i])
        if STROKE_DASH[i] is not None:
            kw["strokeDash"] = STROKE_DASH[i]
        layers.append(alt.Chart(df).mark_line(**kw).encode(x=X, y=Y))
    letter_df = pd.DataFrame([{"txt": letter, "month": lx, "v": ly}])
    layers.append(alt.Chart(letter_df).mark_text(font=SERIF, fontStyle="italic", fontWeight="bold",
                                                 fontSize=27, color="black")
                  .encode(x=X, y=Y, text="txt:N"))
    return alt.layer(*layers).properties(width=164, height=188,
                                         view=alt.ViewBackground(stroke="transparent"))


# ---------------- legend + "a" ----------------
def legend_panel():
    xs = alt.Scale(domain=[0, 3.717], nice=False, zero=False)
    ys = alt.Scale(domain=[0, 5.106], nice=False, zero=False, reverse=True)
    layers = []
    for i, name in enumerate(SERIES):
        c, r = LEGEND_COL[i], LEGEND_ROW[i]
        df = pd.DataFrame([{"x1": c + 0.116, "x2": c + 0.504, "y": r + 2.553}])
        kw = dict(color="black", strokeWidth=STROKE_W[i], strokeCap=STROKE_CAP[i])
        if STROKE_DASH[i] is not None:
            kw["strokeDash"] = STROKE_DASH[i]
        layers.append(alt.Chart(df).mark_rule(**kw).encode(
            x=alt.X("x1:Q", scale=xs, axis=None), x2="x2:Q",
            y=alt.Y("y:Q", scale=ys, axis=None)))
    txt_df = pd.DataFrame({"txt": SERIES,
                           "x": [c + 0.558 for c in LEGEND_COL],
                           "y": [r + 2.553 for r in LEGEND_ROW]})
    layers.append(alt.Chart(txt_df).mark_text(align="left", fontSize=16, color="black").encode(
        x=alt.X("x:Q", scale=xs, axis=None), y=alt.Y("y:Q", scale=ys, axis=None), text="txt:N"))
    a_df = pd.DataFrame([{"txt": "a", "x": 1.817, "y": 0.851}])
    layers.append(alt.Chart(a_df).mark_text(font=SERIF, fontStyle="italic", fontWeight="bold",
                                            fontSize=30, color="black").encode(
        x=alt.X("x:Q", scale=xs, axis=None), y=alt.Y("y:Q", scale=ys, axis=None), text="txt:N"))
    return alt.layer(*layers).properties(width=900, height=120,
                                         view=alt.ViewBackground(stroke="transparent"))


p1 = ts_panel("60.4° S, 54° W", P1_MONTHS, P1_THICK, P1_DEEP, P1_MLAB, P1_WM, P1_DEPTH, P1_ARROW, P1_ISOLAB, 2, 251)
p2 = ts_panel("60.4° S, 52.5° W", P2_MONTHS, P2_THICK, P2_DEEP, P2_MLAB, P2_WM, P2_DEPTH, P2_ARROW, P2_ISOLAB, 2, 251)
p3 = ts_panel("60.4° S, 49.5° W", P3_MONTHS, P3_THICK, P3_DEEP, P3_MLAB, P3_WM, P3_DEPTH, P3_ARROW, P3_ISOLAB, 2, 251)
p4 = ts_panel("62° S, 54° W", P4_MONTHS, P4_THICK, P4_DEEP, P4_MLAB, P4_WM, P4_DEPTH, P4_ARROW, P4_ISOLAB, 1.5, 252)
p5 = ts_panel("62° S, 52.5° W", P5_MONTHS, P5_THICK, P5_DEEP, P5_MLAB, P5_WM, P5_DEPTH, P5_ARROW, P5_ISOLAB, 1.5, 252)
p6 = ts_panel("62° S, 49.5° W", P6_MONTHS, P6_THICK, P6_DEEP, P6_MLAB, P6_WM, P6_DEPTH, P6_ARROW, P6_ISOLAB, 1.5, 252)

pb = month_panel(B_VALUES, [-2, 3], 0.25,
                 "abs(datum.value - round(datum.value)) < 0.001", "θ, °C", 5, "b", 6.8, 2.8)
pc = month_panel(C_VALUES, [32, 34.5], 0.1,
                 "abs(datum.value * 2 - round(datum.value * 2)) < 0.001", "S, PSU", 12, "c", 7.0, 34.43)
pd_ = month_panel(D_VALUES, [-2, -0.8], 0.1,
                  "abs((datum.value + 2) / 0.4 - round((datum.value + 2) / 0.4)) < 0.001", "θ, °C", 18, "d", 11.3, -0.85)
pe = month_panel(E_VALUES, [33, 34.4], 0.1,
                 "abs(datum.value * 5 - round(datum.value * 5)) < 0.001", "S, PSU", 16, "e", 6.3, 34.36)

# flush layout: a nested concat counts as zero size, so spacings below are top-to-top offsets
row1 = alt.hconcat(p1, p2, p3, spacing=71, bounds="flush")
row2 = alt.hconcat(p4, p5, p6, spacing=71, bounds="flush")
row3 = alt.hconcat(pb, pc, pd_, pe, spacing=86, bounds="flush")
top = alt.vconcat(row1, row2, spacing=334, bounds="flush")
bottom = alt.vconcat(legend_panel(), row3, spacing=13, bounds="flush")

chart = (
    alt.vconcat(top, bottom, spacing=638, bounds="flush")
    .properties(padding={"left": 0, "top": 0, "right": 0, "bottom": 0})
    .configure(font=FONT)
    .configure_axis(labelFont=FONT, titleFont=FONT, labelColor="black", titleColor="black",
                    tickColor="black", domainColor="black", grid=False)
    .configure_text(font=FONT)
    .configure_title(font=FONT)
)

chart.save("out.html", embed_options={"renderer": "svg", "actions": False})
